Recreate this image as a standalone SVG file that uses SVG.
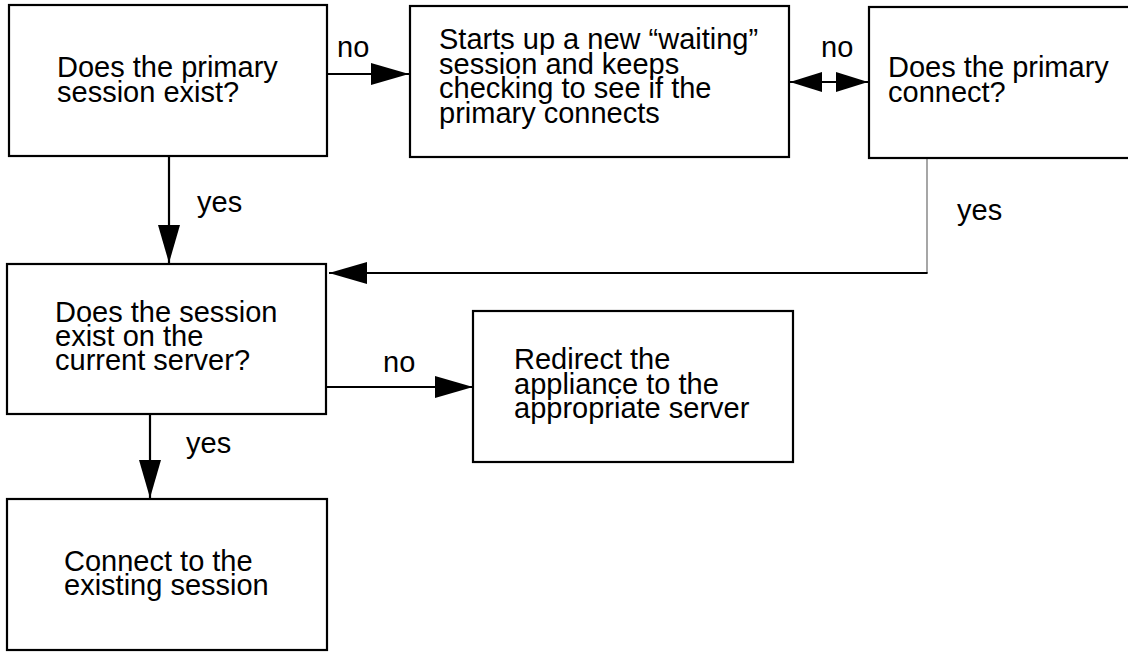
<svg xmlns="http://www.w3.org/2000/svg" width="1128" height="652" viewBox="0 0 1128 652">
  <style>
    .box { fill: #ffffff; stroke: #000000; stroke-width: 2.2; }
    .txt { font-family: "Liberation Sans", Arial, Helvetica, sans-serif; font-size: 29px; fill: #000000; }
    .wire { fill: none; stroke: #000000; stroke-width: 2.2; }
    .thin { fill: none; stroke: #777777; stroke-width: 1.3; }
  </style>
  <defs>
    <marker id="head" markerUnits="userSpaceOnUse" markerWidth="38" markerHeight="22" refX="38" refY="11" orient="auto-start-reverse">
      <path d="M0,0 L38,11 L0,22 Z" fill="#000000"/>
    </marker>
    <marker id="headSmall" markerUnits="userSpaceOnUse" markerWidth="32" markerHeight="20" refX="32" refY="10" orient="auto-start-reverse">
      <path d="M0,0 L32,10 L0,20 Z" fill="#000000"/>
    </marker>
  </defs>

  <rect width="1128" height="652" fill="#ffffff"/>

  <!-- connectors -->
  <g id="connectors">
    <line class="wire" x1="327" y1="74" x2="409" y2="74" marker-end="url(#head)"/>
    <line class="wire" x1="790" y1="82" x2="868" y2="82" marker-start="url(#headSmall)" marker-end="url(#headSmall)"/>
    <line class="wire" x1="169" y1="156" x2="169" y2="263" marker-end="url(#head)"/>
    <line class="thin" x1="927" y1="154" x2="927" y2="273"/>
    <line class="wire" x1="927.6" y1="273" x2="329" y2="273" marker-end="url(#head)"/>
    <line class="wire" x1="326" y1="387" x2="473" y2="387" marker-end="url(#head)"/>
    <line class="wire" x1="150" y1="414" x2="150" y2="498" marker-end="url(#head)"/>

    <text class="txt" x="337" y="57">no</text>
    <text class="txt" x="821" y="57">no</text>
    <text class="txt" x="197" y="212">yes</text>
    <text class="txt" x="957" y="220">yes</text>
    <text class="txt" x="383" y="372">no</text>
    <text class="txt" x="186" y="453">yes</text>
  </g>

  <!-- decision: primary session exists -->
  <g id="primary-exists">
    <rect class="box" x="9" y="5" width="318" height="151"/>
    <text class="txt" x="57" y="77">Does the primary<tspan x="57" dy="25">session exist?</tspan></text>
  </g>

  <!-- waiting session -->
  <g id="waiting-session">
    <rect class="box" x="410" y="6" width="379" height="151"/>
    <text class="txt" x="439" y="49">Starts up a new “waiting”<tspan x="439" dy="24.5">session and keeps</tspan><tspan x="439" dy="24.5">checking to see if the</tspan><tspan x="439" dy="24.5">primary connects</tspan></text>
  </g>

  <!-- decision: primary connects -->
  <g id="primary-connects">
    <rect class="box" x="869" y="7" width="275" height="151"/>
    <text class="txt" x="888" y="77">Does the primary<tspan x="888" dy="25">connect?</tspan></text>
  </g>

  <!-- decision: session on current server -->
  <g id="session-on-server">
    <rect class="box" x="7" y="264" width="319" height="150"/>
    <text class="txt" x="55" y="321.7">Does the session<tspan x="55" dy="24.3">exist on the</tspan><tspan x="55" dy="24.3">current server?</tspan></text>
  </g>

  <!-- redirect -->
  <g id="redirect">
    <rect class="box" x="473" y="311" width="320" height="151"/>
    <text class="txt" x="514" y="369">Redirect the<tspan x="514" dy="24.5">appliance to the</tspan><tspan x="514" dy="24.5">appropriate server</tspan></text>
  </g>

  <!-- connect -->
  <g id="connect-existing">
    <rect class="box" x="7" y="499" width="320" height="151"/>
    <text class="txt" x="64" y="570.7">Connect to the<tspan x="64" dy="24.3">existing session</tspan></text>
  </g>
</svg>
